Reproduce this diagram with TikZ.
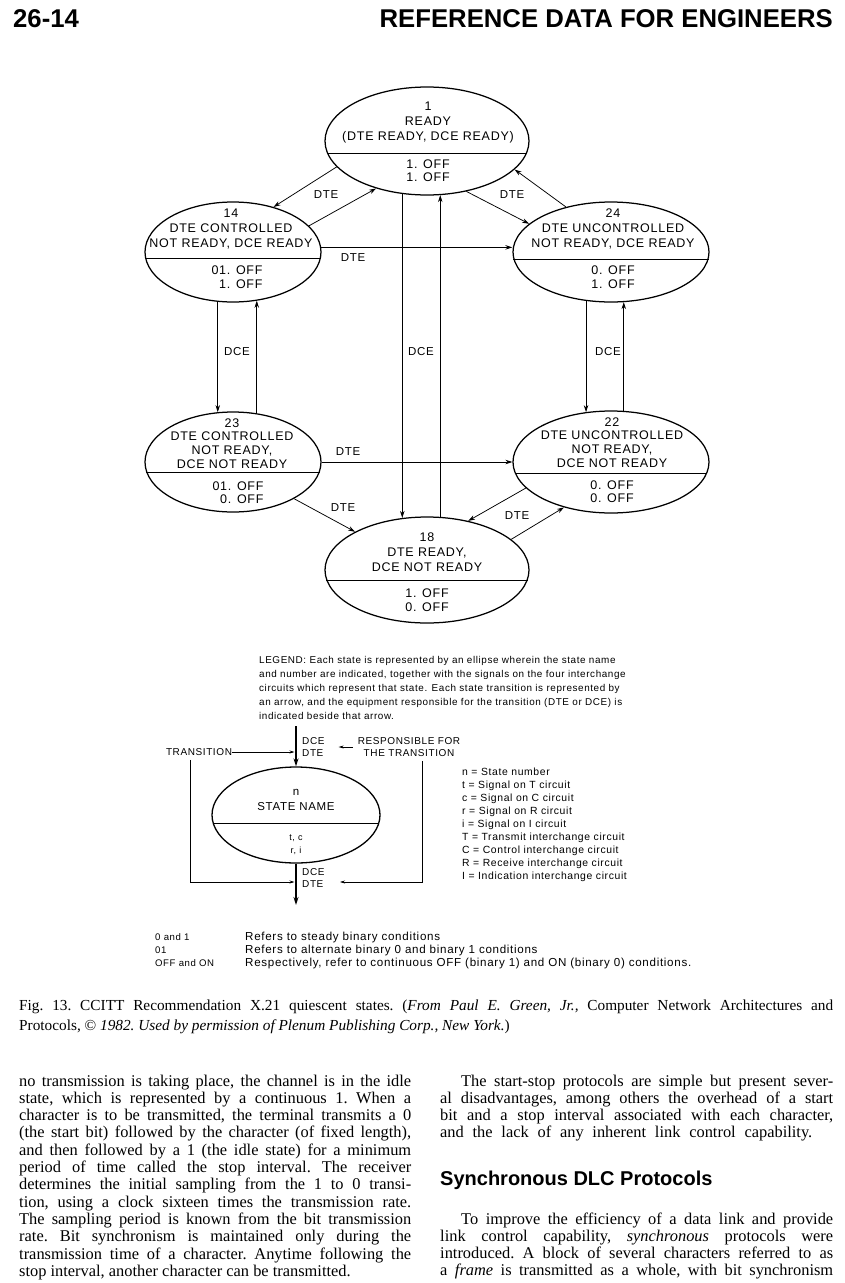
\documentclass[tikz,border=0pt]{standalone}
\usepackage{fontspec}
\setmainfont{Liberation Serif}
\newfontfamily\dfont[LetterSpace=6]{Liberation Sans}
\newfontfamily\hfont{Liberation Sans}
\usetikzlibrary{shapes.geometric,arrows.meta,calc}
\begin{document}
\begin{tikzpicture}[x=1pt,y=-1pt,
  st/.style={draw, line width=1.25pt, ellipse, inner sep=0pt},
  conn/.style={line width=0.75pt, -{Stealth[length=7pt,width=4.5pt]}},
  keyarr/.style={line width=1.4pt, -{Stealth[length=8pt,width=5pt]}},
  smallarr/.style={line width=0.6pt, -{Stealth[length=5pt,width=3pt]}},
  div/.style={line width=0.6pt},
  etxt/.style={font=\dfont\fontsize{12.5}{15}\selectfont, align=center, inner sep=0pt},
  etxtb/.style={font=\dfont\fontsize{12.5}{13.7}\selectfont, align=center, inner sep=0pt},
  otxt/.style={font=\dfont\fontsize{12.5}{13.5}\selectfont, align=right, inner sep=0pt},
  lab/.style={font=\dfont\fontsize{11.5}{13}\selectfont, inner sep=0pt},
  klab/.style={font=\dfont\fontsize{10}{12}\selectfont, inner sep=0pt, align=left},
]
\fill[white] (0,0) rectangle (845,1283);
\useasboundingbox (0,0) rectangle (845,1283);

% header
\node[anchor=base west, inner sep=0, font=\hfont\bfseries\fontsize{25.7}{30}\selectfont] (pg) at (13,27) {26-14};
\node[anchor=base east, inner sep=0, font=\hfont\bfseries\fontsize{25.7}{30}\selectfont] (ttl) at (833,27) {REFERENCE DATA FOR ENGINEERS};

% states
\node[st, minimum width=204pt, minimum height=108pt] (e1) at (427,141) {};
\node[st, minimum width=176pt, minimum height=100pt] (e14) at (233,252) {};
\node[st, minimum width=196pt, minimum height=100pt] (e24) at (611,252) {};
\node[st, minimum width=176pt, minimum height=100pt] (e23) at (233,462) {};
\node[st, minimum width=196pt, minimum height=102pt] (e22) at (611,462) {};
\node[st, minimum width=204pt, minimum height=106pt] (e18) at (427,570) {};

\draw[div] (e1.187) -- (e1.-7);
\draw[div] (e14.184) -- (e14.-4);
\draw[div] (e24.184) -- (e24.-4);
\draw[div] (e23.187) -- (e23.-7);
\draw[div] (e22.187) -- (e22.-7);
\draw[div] (e18.186) -- (e18.-6);

\node[etxt] (e1a) at (428,122) {1\\READY\\(DTE READY, DCE READY)};
\node[otxt] (e1b) at (428,170.5) {1. OFF\\1. OFF};
\node[etxt] (e14a) at (231,229) {14\\DTE CONTROLLED\\NOT READY, DCE READY};
\node[otxt] (e14b) at (237,277) {01. OFF\\1. OFF};
\node[etxt] (e24a) at (613,229) {24\\DTE UNCONTROLLED\\NOT READY, DCE READY};
\node[otxt] (e24b) at (613,277) {0. OFF\\1. OFF};
\node[etxtb] (e23a) at (232,443.5) {23\\DTE CONTROLLED\\NOT READY,\\DCE NOT READY};
\node[otxt] (e23b) at (238,492.5) {01. OFF\\0. OFF};
\node[etxtb] (e22a) at (612,442.5) {22\\DTE UNCONTROLLED\\NOT READY,\\DCE NOT READY};
\node[otxt] (e22b) at (612,491.5) {0. OFF\\0. OFF};
\node[etxt] (e18a) at (427,552) {18\\DTE READY,\\DCE NOT READY};
\node[otxt] (e18b) at (427,600) {1. OFF\\0. OFF};

% transitions
\draw[conn] (e1.-164) -- (e14.48);
\draw[conn] (e14.19) -- (e1.-137);
\draw[conn] (e24.135) -- (e1.-18);
\draw[conn] (e1.-52) -- (e24.161);
\draw[conn] (e14.3) -- (e14.3 -| e24.west);
\draw[conn] (e23.east) -- (e22.west);
\draw[conn] (e1.-115) -- (e1.-115 |- e18.115);
\draw[conn] (e18.76) -- (e18.76 |- e1.-76);
\draw[conn] (e14.-107) -- (e23.107);
\draw[conn] (e23.64) -- (e14.-64);
\draw[conn] (e24.-117) -- (e24.-117 |- e22.117);
\draw[conn] (e22.76) -- (e22.76 |- e24.-75);
\draw[conn] (e23.-31) -- (e18.152);
\draw[conn] (e22.-163) -- (e18.50);
\draw[conn] (e18.20) -- (e22.-136);

\node[lab] (l1) at (326,195) {DTE};
\node[lab] (l2) at (512,195) {DTE};
\node[lab] (l3) at (353,258) {DTE};
\node[lab] (l4) at (237,352) {DCE};
\node[lab] (l5) at (421,352) {DCE};
\node[lab] (l6) at (608,352) {DCE};
\node[lab] (l7) at (348,452) {DTE};
\node[lab] (l8) at (343,508) {DTE};
\node[lab] (l9) at (517,516) {DTE};

% legend paragraph
\node[anchor=base west, inner sep=0] (leg) at (259,663.5) {\parbox[t]{400pt}{\dfont\fontsize{9.9}{14}\selectfont
LEGEND: Each state is represented by an ellipse wherein the state name\\
and number are indicated, together with the signals on the four interchange\\
circuits which represent that state. Each state transition is represented by\\
an arrow, and the equipment responsible for the transition (DTE or DCE) is\\
indicated beside that arrow.}};

% key
\node[st, line width=1.3pt, minimum width=168pt, minimum height=96pt] (ek) at (296,815) {};
\draw[div] (ek.186) -- (ek.-6);
\node[etxt, font=\dfont\fontsize{11.5}{15}\selectfont] (eka) at (296,800) {n\\STATE NAME};
\node[etxt, font=\dfont\fontsize{9}{13}\selectfont] (ekb) at (296,844.5) {t, c\\r, i};
\coordinate (kt) at (296,726);
\coordinate (kb) at (296,905);
\draw[keyarr] (kt) -- (ek.north);
\draw[keyarr] (ek.south) -- (kb);
\node[klab, anchor=west] (kdt) at (302,747) {DCE\\DTE};
\node[klab, anchor=west] (kdb) at (302,878) {DCE\\DTE};
\node[klab, align=center] (resp) at (409,747) {RESPONSIBLE FOR\\THE TRANSITION};
\draw[smallarr] ([xshift=-5pt]resp.west) -- ++(-14,0);
\node[klab] (trans) at (199,752) {TRANSITION};
\draw[smallarr, shorten >=1.5pt] (trans.east) -- (trans.east -| kt);
\coordinate (lbc) at (190,882);
\coordinate (rbc) at (422,882);
\draw[smallarr, shorten >=1.5pt] ([yshift=-4pt]trans.south -| lbc) -- (lbc) -- (lbc -| kb);
\draw[smallarr] ([yshift=-4pt]resp.south -| rbc) -- (rbc) -- ++(-82,0);

\node[anchor=base west, inner sep=0] (klist) at (462,775.5) {\parbox[t]{220pt}{\dfont\fontsize{10.4}{13}\selectfont
n = State number\\
t = Signal on T circuit\\
c = Signal on C circuit\\
r = Signal on R circuit\\
i = Signal on I circuit\\
T = Transmit interchange circuit\\
C = Control interchange circuit\\
R = Receive interchange circuit\\
I = Indication interchange circuit}};

% notes
\node[anchor=base west, inner sep=0] (n1) at (155,940.5) {\parbox[t]{80pt}{\dfont\fontsize{9.6}{13}\selectfont 0 and 1\\01\\OFF and ON}};
\node[anchor=base west, inner sep=0] (n2) at (245,940.5) {\parbox[t]{580pt}{\dfont\fontsize{11.6}{13}\selectfont Refers to steady binary conditions\\Refers to alternate binary 0 and binary 1 conditions\\Respectively, refer to continuous OFF (binary 1) and ON (binary 0) conditions.}};

% caption
\node[anchor=base west, inner sep=0] (cap) at (19,1010) {\parbox[t]{814pt}{\fontsize{15.3}{20}\selectfont\frenchspacing
\makebox[\linewidth][s]{Fig. 13. CCITT Recommendation X.21 quiescent states. (\textit{From Paul E. Green, Jr.,} Computer Network Architectures and}\\
Protocols, © \textit{1982. Used by permission of Plenum Publishing Corp., New York.})}};

% body text
\node[anchor=base west, inner sep=0] (colL) at (19,1086) {\parbox[t]{392pt}{\fontsize{16.4}{17.3}\selectfont\frenchspacing
\makebox[\linewidth][s]{no transmission is taking place, the channel is in the idle}\\
\makebox[\linewidth][s]{state, which is represented by a continuous 1. When a}\\
\makebox[\linewidth][s]{character is to be transmitted, the terminal transmits a 0}\\
\makebox[\linewidth][s]{(the start bit) followed by the character (of fixed length),}\\
\makebox[\linewidth][s]{and then followed by a 1 (the idle state) for a minimum}\\
\makebox[\linewidth][s]{period of time called the stop interval. The receiver}\\
\makebox[\linewidth][s]{determines the initial sampling from the 1 to 0 transi-}\\
\makebox[\linewidth][s]{tion, using a clock sixteen times the transmission rate.}\\
\makebox[\linewidth][s]{The sampling period is known from the bit transmission}\\
\makebox[\linewidth][s]{rate. Bit synchronism is maintained only during the}\\
\makebox[\linewidth][s]{transmission time of a character. Anytime following the}\\
stop interval, another character can be transmitted.}};

\node[anchor=base west, inner sep=0] (colR1) at (440,1086) {\parbox[t]{393pt}{\fontsize{16.4}{17.3}\selectfont\frenchspacing
\makebox[\linewidth][s]{\hspace*{21pt}The start-stop protocols are simple but present sever-}\\
\makebox[\linewidth][s]{al disadvantages, among others the overhead of a start}\\
\makebox[\linewidth][s]{bit and a stop interval associated with each character,}\\
\makebox[372pt][s]{and the lack of any inherent link control capability.}}};

\node[anchor=base west, inner sep=0, font=\hfont\bfseries\fontsize{20}{24}\selectfont] (head) at (440,1185) {Synchronous DLC Protocols};

\node[anchor=base west, inner sep=0] (colR2) at (440,1224) {\parbox[t]{393pt}{\fontsize{16.4}{17.3}\selectfont\frenchspacing
\makebox[\linewidth][s]{\hspace*{21pt}To improve the efficiency of a data link and provide}\\
\makebox[\linewidth][s]{link control capability, \textit{synchronous} protocols were}\\
\makebox[\linewidth][s]{introduced. A block of several characters referred to as}\\
\makebox[\linewidth][s]{a \textit{frame} is transmitted as a whole, with bit synchronism}}};
\end{tikzpicture}
\end{document}
